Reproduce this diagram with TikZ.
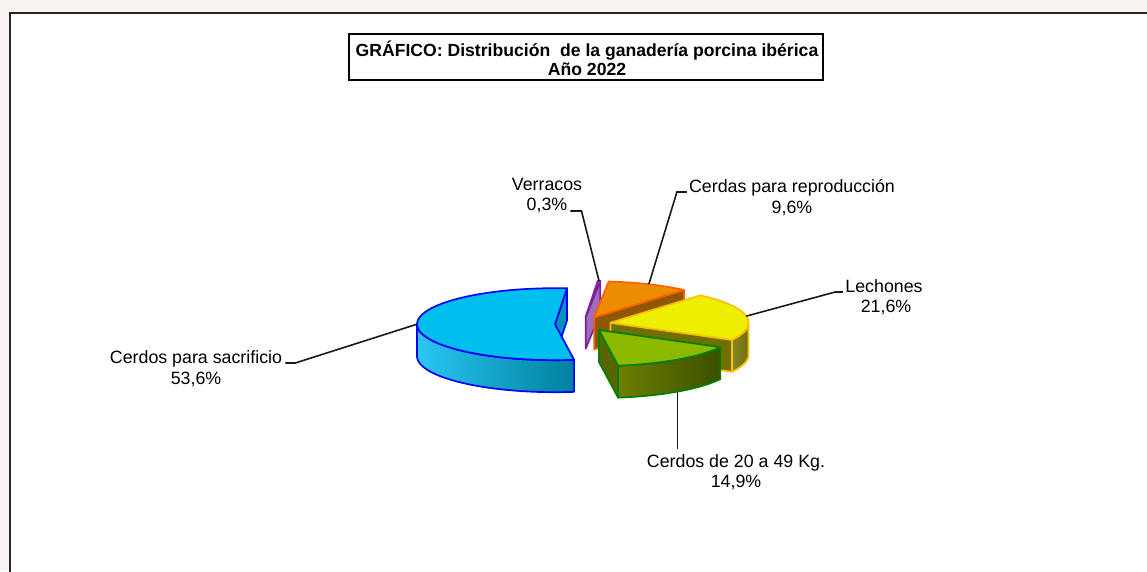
\documentclass[tikz,border=0pt]{standalone}
\usepackage{fontspec}
\setmainfont{Liberation Sans}
\usepackage{tikz}
\usetikzlibrary{calc}

\definecolor{pageBg}{HTML}{F7F4F0}
\definecolor{sacTop}{HTML}{00BEEE}
\definecolor{sacLine}{HTML}{0000FF}
\definecolor{sacSideL}{HTML}{2AC6F2}
\definecolor{sacSideR}{HTML}{00809E}
\definecolor{sacFlat}{HTML}{0094BC}
\definecolor{verTop}{HTML}{B07ED8}
\definecolor{verLine}{HTML}{7F1F9F}
\definecolor{repTop}{HTML}{EE8C00}
\definecolor{repLine}{HTML}{FF6000}
\definecolor{repSide}{HTML}{8E5800}
\definecolor{lechTop}{HTML}{EEEE00}
\definecolor{lechLine}{HTML}{FFC000}
\definecolor{lechSide}{HTML}{707000}
\definecolor{veiTop}{HTML}{8CB800}
\definecolor{veiLine}{HTML}{008000}
\definecolor{veiSideL}{HTML}{6E7E00}
\definecolor{veiSideR}{HTML}{3A5000}

% apex of an exploded slice (middle angle)
\newcommand{\pieapex}[1]{%
  \pgfmathsetmacro\pcx{583+28*cos(#1)}%
  \pgfmathsetmacro\pcy{324-7.3*sin(#1)}}
% top face, angles #1 to #2
\newcommand{\pietop}[4]{%
  \draw[slice,#3,fill=#4] (\pcx,\pcy) -- plot[domain=#1:#2,samples=40] ({\pcx+\rx*cos(\x)},{\pcy-\ry*sin(\x)}) -- cycle;}
% flat wall on the edge at angle #1
\newcommand{\pieside}[3]{%
  \draw[slice,#2,fill=#3] (\pcx,\pcy) -- ({\pcx+\rx*cos(#1)},{\pcy-\ry*sin(#1)}) -- ++(0,\dd) -- (\pcx,{\pcy+\dd}) -- cycle;}
% round wall, angles #1 to #2
\newcommand{\pieround}[4]{%
  \draw[slice,#3,#4] plot[domain=#1:#2,samples=40] ({\pcx+\rx*cos(\x)},{\pcy-\ry*sin(\x)}) -- plot[domain=#2:#1,samples=40] ({\pcx+\rx*cos(\x)},{\pcy+\dd-\ry*sin(\x)}) -- cycle;}

\begin{document}
\begin{tikzpicture}[x=1pt, y=-1pt,
    lbl/.style={font=\fontsize{17.8}{21}\selectfont, inner sep=0pt, anchor=base},
    ttl/.style={font=\bfseries\fontsize{17.6}{19}\selectfont, inner sep=0pt, anchor=base},
    leader/.style={draw=black!90, line width=1.6pt},
    slice/.style={line width=1.7pt, line join=round}]
    \useasboundingbox (0,0) rectangle (1147,571);
    \fill[pageBg] (0,0) rectangle (1147,571);
    \draw[line width=2.4pt, draw=black!85, fill=white] (10,13) rectangle (1170,600);

    % title
    \node[draw, line width=1.4pt, minimum width=474pt, minimum height=46pt, inner sep=0pt] at (586,57) (titlebox) {};
    \node[ttl] at (587,56) (titlea) {GRÁFICO: Distribución~ de la ganadería porcina ibérica};
    \node[ttl] at (587,75) (titleb) {Año 2022};

    \def\rx{138}
    \def\ry{36}
    \def\dd{32}

    % Verracos
    \pieapex{84.46}
    \pieside{83.92}{verLine}{verTop!88!black}
    \pietop{83.92}{85}{verLine}{verTop}
    \coordinate (verrtip) at ({\pcx+\rx*cos(84.46)},{\pcy-\ry*sin(84.46)});

    % Cerdas para reproduccion
    \pieapex{66.64}
    \pieside{49.36}{repLine}{repSide}
    \pietop{49.36}{83.92}{repLine}{repTop}
    \coordinate (reptip) at ({\pcx+\rx*cos(66.64)},{\pcy-\ry*sin(66.64)});

    % Lechones
    \pieapex{10.48}
    \pieside{-28.4}{lechLine}{lechSide}
    \pieround{-28.4}{0}{lechLine}{left color=lechSide!85!white, right color=lechSide}
    \pietop{-28.4}{49.36}{lechLine}{lechTop}
    \coordinate (lechtip) at ({\pcx+\rx*cos(10.48)},{\pcy-\ry*sin(10.48)});

    % Cerdos de 20 a 49 Kg.
    \pieapex{-55.22}
    \pieside{-82.04}{veiLine}{veiSideL!80!black}
    \pieround{-82.04}{-28.4}{veiLine}{left color=veiSideL, right color=veiSideR}
    \pietop{-82.04}{-28.4}{veiLine}{veiTop}
    \coordinate (veintetip) at ({\pcx+\rx*cos(-55.22)},{\pcy+\dd-\ry*sin(-55.22)});

    % Cerdos para sacrificio
    \pieapex{181.48}
    \pieside{85}{sacLine}{sacFlat}
    \pieround{180}{277.96}{sacLine}{left color=sacSideL, right color=sacSideR}
    \pietop{85}{277.96}{sacLine}{sacTop}
    \coordinate (sactip) at ({\pcx-\rx},\pcy);

    % labels
    \node[lbl] at (547,190) (verrname) {Verracos};
    \node[lbl] at (547,210) (verrpct) {0,3\%};
    \node[lbl] at (792,192) (repname) {Cerdas para reproducción};
    \node[lbl] at (792,213) (reppct) {9,6\%};
    \node[lbl] at (884,292) (lechname) {Lechones};
    \node[lbl] at (886,312) (lechpct) {21,6\%};
    \node[lbl] at (196,363) (sacname) {Cerdos para sacrificio};
    \node[lbl] at (196,384) (sacpct) {53,6\%};
    \node[lbl] at (736,467) (veintename) {Cerdos de 20 a 49 Kg.};
    \node[lbl] at (736,487) (veintepct) {14,9\%};

    \draw[leader] ($(verrpct.base east)+(3,1)$) -- ++(11,0) -- (verrtip);
    \draw[leader] ($(repname.base west)+(-2,0)$) -- ++(-10,0) -- (reptip);
    \draw[leader] ($(lechname.base west)+(-2,0)$) -- ++(-8,0) -- (lechtip);
    \draw[leader] ($(sacname.base east)+(3,0)$) -- ++(10,0) -- (sactip);
    \draw[leader] (veintetip) -- ($(veintetip |- veintename.north)+(0,-5)$);
\end{tikzpicture}
\end{document}
